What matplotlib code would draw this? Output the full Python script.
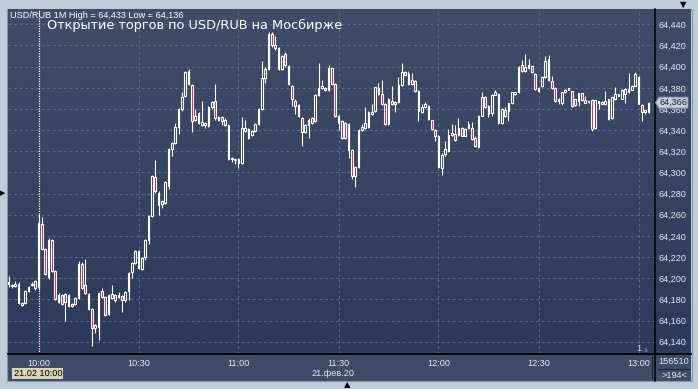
import numpy as np
import matplotlib
matplotlib.use("Agg")
import matplotlib.pyplot as plt
from matplotlib.colors import LinearSegmentedColormap
from matplotlib.patches import Rectangle, Polygon
from matplotlib.lines import Line2D

# prices are 64 + value/1000 (value in thousandths of a ruble)
BASE = 64.0
first_minute = -9          # minutes relative to 10:00

opens = [196, 194, 193, 195, 177, 177, 188, 194, 191,
         192, 251, 228, 201, 236, 207, 178, 184, 178, 184,
         176, 176, 181, 213, 194, 185, 171, 153, 154, 188,
         182, 166, 181, 184, 182, 183, 179, 188, 206, 214,
         226, 209, 220, 236, 259, 296, 281, 270, 271, 287,
         322, 328, 343, 360, 372, 396, 383, 350, 356, 345,
         347, 344, 362, 368, 350, 352, 350, 345, 314, 313,
         313, 309, 339, 341, 335, 339, 346, 360, 389, 398,
         431, 420, 418, 398, 412, 401, 382, 368, 364, 351,
         338, 345, 351, 349, 373, 380, 380, 378, 398.5, 384,
         353, 333, 347, 346, 321, 297, 305, 340, 342, 343,
         355, 358, 380, 374, 365, 346, 368, 365, 367, 383,
         395, 393, 384, 386, 377, 357, 362, 363, 349.5, 340,
         334, 304, 317, 320, 337, 336, 335.5, 342, 334.6, 342,
         342, 333, 324, 353.5, 371.6, 363, 356, 373.5, 374, 347,
         353.5, 358, 366, 374, 375.7, 402, 396, 399, 401, 393,
         380, 382, 390, 407, 386.7, 380, 369, 366, 375.7, 379.5,
         376.6, 364, 367.8, 374.7, 366, 367.8, 368.4, 341.8, 366, 365,
         364.6, 369, 351, 369, 374, 369.3, 374, 375.7, 378, 382,
         390.5, 364, 357.6, 357]

highs = [202, 195, 197, 196, 178, 189, 193, 196, 198,
         261, 258, 229, 238, 237, 208, 186, 185, 186, 185,
         177, 182, 216, 215, 218, 186, 172, 157, 187, 191,
         183, 185, 194, 185, 187, 184, 188, 206, 215, 227,
         227, 220, 237, 260, 298, 312, 282, 274, 292, 323,
         329, 347, 361, 376, 396, 398, 384, 360, 357, 368,
         348, 363, 368, 384, 353, 353, 351, 346, 315, 314,
         314, 352, 350, 342, 340, 347, 361, 405, 400, 433,
         433, 429, 419, 411, 414, 402, 383, 369, 365, 352,
         346, 351, 352, 374, 403, 387, 381, 402, 399, 385,
         354, 350, 348, 347, 322, 306, 341, 346, 362, 358,
         365, 381, 385, 387, 366, 370, 382, 368, 390, 403,
         396, 396, 394, 387, 378, 365, 367, 364, 350, 341,
         335, 318, 330, 341, 346, 345, 351, 343, 342, 349,
         348, 334, 354, 375.7, 372, 364, 374, 378, 375, 360.5,
         362, 366, 376, 376, 400.5, 406, 412, 407, 402, 394,
         381, 391, 410, 411, 391, 381, 370, 376, 378.5, 380,
         377, 369.5, 375, 375, 372, 368, 369, 368.8, 368, 367.5,
         377, 369.5, 371.5, 381, 374.5, 378.5, 379.5, 394, 382.5, 395,
         391, 364.5, 359.5, 366.5]

lows = [192, 191, 192, 176, 174, 176, 187, 193, 189,
        189, 227, 203, 199, 206, 179, 177, 175, 160, 173,
        173, 175, 180, 190, 185, 170, 136, 148, 142, 181,
        164, 165, 180, 178, 181, 168, 178, 179, 200, 213,
        209, 208, 217, 232, 258, 281, 260, 266, 270, 284,
        316, 327, 336, 358, 371, 383, 338, 349, 346, 344,
        342, 343, 360, 350, 349, 345, 344, 312, 310, 308,
        304, 308, 338, 332, 334, 338, 345, 359, 385, 397,
        419, 416, 397, 397, 400, 383, 363, 355, 352, 325,
        337, 333, 346, 348, 372, 379, 377, 377, 383, 352,
        340, 332, 332, 314, 294, 286, 304, 339, 341, 342,
        354, 357, 373, 364, 345, 345, 364, 357, 366, 382,
        392, 383, 383, 376, 349, 356, 361, 350, 340, 330,
        304, 298, 316, 319, 334, 330, 334, 334, 334, 341,
        331, 324, 323, 353, 361, 352, 353, 373, 346, 345.6,
        352, 349, 365, 373, 375, 395, 395, 398, 394, 378,
        376, 381, 389, 386, 379, 367, 364.6, 363.6, 375, 377.5,
        362, 363, 363, 368, 365.5, 365.5, 339, 341, 360, 364.5,
        364, 350, 350.5, 368.5, 372, 369, 366, 375, 377.5, 381.5,
        364.5, 349, 355, 356.5]

closes = [195, 193, 195, 177, 175, 188, 192, 195, 197,
          252, 228, 204, 236, 207, 180, 184, 176, 185, 174,
          174, 181, 213, 191, 186, 171, 153, 156, 186, 182,
          165, 184, 185, 179, 184, 179, 187, 205, 214, 226,
          210, 219, 236, 259, 297, 282, 269, 273, 291, 322,
          328, 343, 360, 371, 395, 384, 349, 353, 347, 348,
          345, 362, 367, 351, 352, 349, 345, 313, 313, 312,
          309, 342, 342, 333, 339, 346, 360, 389, 398, 431,
          420, 418, 398, 410, 402, 384, 369, 363, 353, 338,
          345, 349.5, 347, 373, 380, 382, 378, 399, 384, 353,
          347, 349, 333, 321, 297, 305, 340, 343, 347, 357,
          357.6, 380.5, 374, 365, 346, 369, 365, 367, 383, 395,
          392.5, 384, 387, 377, 358, 362, 365, 350.5, 341, 334,
          305, 316.7, 322, 335, 335.6, 331, 342, 334.6, 341, 345.6,
          331.5, 325, 353.5, 371, 362, 355, 373.5, 375.7, 347, 360,
          359, 366, 375.7, 375.7, 400, 396, 400, 402, 394.6, 379,
          376.6, 390, 405.7, 387, 380, 368, 367.7, 375.7, 378, 378,
          363, 369, 374.7, 368.4, 368.4, 366.2, 341, 368.4, 367.8, 367,
          367.8, 350.4, 371, 374, 372.5, 378, 379, 378.8, 382, 393,
          365, 357.6, 359, 366]

ytick_vals = [64.14, 64.16, 64.18, 64.20, 64.22, 64.24, 64.26, 64.28,
              64.30, 64.32, 64.34, 64.36, 64.38, 64.40, 64.42, 64.44]
xtick_minutes = [0, 30, 60, 90, 120, 150, 180]
xtick_labels = ["10:00", "10:30", "11:00", "11:30", "12:00", "12:30", "13:00"]

title = "Открытие торгов по USD/RUB на Мосбирже"
info = "USD/RUB 1M High = 64,433 Low = 64,136"
date_label = "21.фев.20"
cursor_label = "21.02 10:00"

W, H = 698, 389
def fx(px):
    return px / W
def fy(py):
    return 1 - py / H

o = BASE + np.array(opens) / 1000
h = BASE + np.array(highs) / 1000
l = BASE + np.array(lows) / 1000
c = BASE + np.array(closes) / 1000
x = np.arange(first_minute, first_minute + len(closes))

fig = plt.figure(figsize=(W / 100, H / 100), dpi=100, facecolor="#c0cbd8")
plt.rcParams["font.family"] = ["Liberation Sans", "DejaVu Sans"]

# gradient background behind plot + price scale
bg = fig.add_axes([fx(8), fy(354), fx(691 - 8), (354 - 9) / H], zorder=-2)
cmap = LinearSegmentedColormap.from_list("bg", ["#2c3a5b", "#404c69"])
bg.imshow(np.linspace(0, 1, 256).reshape(-1, 1)[::-1], aspect="auto", cmap=cmap,
          extent=[0, 1, 0, 1])
bg.set_axis_off()

# bottom time panel
fig.patches.append(Rectangle((fx(8), fy(380.5)), fx(691 - 8), (380.5 - 354) / H,
                             transform=fig.transFigure, facecolor="#3e4c68",
                             edgecolor="none", zorder=-3))
fig.patches.append(Rectangle((fx(7.5), fy(381)), fx(692 - 7.5), (381 - 8.5) / H,
                             transform=fig.transFigure, facecolor="none",
                             edgecolor="#8a97aa", lw=0.8, zorder=-3))

ax = fig.add_axes([fx(8), fy(354), fx(654.5 - 8), (354 - 9) / H])
ax.patch.set_alpha(0)
ax.set_xlim(-9.15, 184.8)
ax.set_ylim(64.1284, 64.4545)

for y in ytick_vals:
    ax.axhline(y, color="#5c6a8a", lw=0.8, ls=(0, (2.5, 2.5)), zorder=1)
for m in xtick_minutes[1:]:
    ax.axvline(m, color="#5c6a8a", lw=0.8, ls=(0, (2.5, 2.5)), zorder=1)
ax.axvline(0, color="white", lw=0.9, ls=(0, (1, 1)), zorder=1.5)

up = c >= o
ax.vlines(x, l, h, color="white", lw=0.8, zorder=2)
ax.bar(x, np.maximum(np.abs(c - o), 0.0003), bottom=np.minimum(o, c), width=0.5,
       color=np.where(up, "#33405f", "#e3173f"), edgecolor="white", linewidth=0.8,
       zorder=3)

ax.yaxis.tick_right()
ax.set_yticks(ytick_vals)
ax.set_yticklabels([f"{v:.3f}".replace(".", ",") for v in ytick_vals])
ax.set_xticks(xtick_minutes)
ax.set_xticklabels(xtick_labels)
ax.tick_params(length=0, labelsize=6.6, colors="#e2e8f2")
ax.tick_params(axis="y", pad=2.6)
ax.tick_params(axis="x", pad=3.6)
for s in ["top", "left"]:
    ax.spines[s].set_visible(False)
for s in ["bottom", "right"]:
    ax.spines[s].set_visible(False)

# separators
fig.lines.append(Line2D([fx(8), fx(691)], [fy(354.3), fy(354.3)], transform=fig.transFigure,
                        color="black", lw=1.3))
fig.lines.append(Line2D([fx(654.8), fx(654.8)], [fy(9), fy(380.5)], transform=fig.transFigure,
                        color="black", lw=1.1))
fig.lines.append(Line2D([fx(651.5), fx(651.5)], [fy(356), fy(378)], transform=fig.transFigure,
                        color="#1c2436", lw=0.7))
fig.lines.append(Line2D([fx(658), fx(689)], [fy(368.5), fy(368.5)], transform=fig.transFigure,
                        color="#1c2436", lw=0.8))

# texts
fig.text(fx(10), fy(15), info, fontsize=6.6, color="white", va="center", ha="left")
fig.text(fx(47), fy(25.5), title, fontsize=9.3, color="white", va="center", ha="left",
         family="DejaVu Sans")
fig.text(fx(333), fy(373.5), date_label, fontsize=6.6, color="#e2e8f2", ha="center", va="center")
fig.text(fx(13.5), fy(373.5), cursor_label, fontsize=6.6, color="black", ha="left", va="center",
         bbox=dict(boxstyle="square,pad=0.15", facecolor="#d9d5b5", edgecolor="none"))
fig.text(fx(674), fy(361.5), "156510", fontsize=6.6, color="#e2e8f2", ha="center", va="center")
fig.text(fx(674), fy(375.5), ">194<", fontsize=6.6, color="#e2e8f2", ha="center", va="center")
fig.text(fx(639), fy(348.5), "1", fontsize=6.6, color="#c8d6ee", ha="center", va="center")
fig.text(fx(646), fy(350), "▲", fontsize=4, color="#67748f", ha="center", va="center",
         family="DejaVu Sans")
fig.text(fx(3), fy(193), "▶", fontsize=5, color="black", ha="center", va="center",
         family="DejaVu Sans")
fig.text(fx(683), fy(5), "▼", fontsize=6, color="black", ha="center", va="center",
         family="DejaVu Sans")
fig.text(fx(347), fy(385), "▲", fontsize=6, color="black", ha="center", va="center",
         family="DejaVu Sans")

# last price marker on the price scale
last = c[-1]
px_y = ax.transData.transform((0, last))[1]
py = H - px_y
pts = [(655.5, py), (659, py - 5.5), (688, py - 5.5), (688, py + 5.5), (659, py + 5.5)]
fig.patches.append(Polygon([(fx(a), fy(b)) for a, b in pts], closed=True,
                           transform=fig.transFigure, facecolor="#c6cbd4",
                           edgecolor="#8d94a6", lw=0.7, zorder=5))
fig.text(fx(660), fy(py), f"{last:.3f}".replace(".", ","), fontsize=6.6, color="#1b2744",
         ha="left", va="center", zorder=6)

fig.savefig("out.png", dpi=100, facecolor=fig.get_facecolor())
